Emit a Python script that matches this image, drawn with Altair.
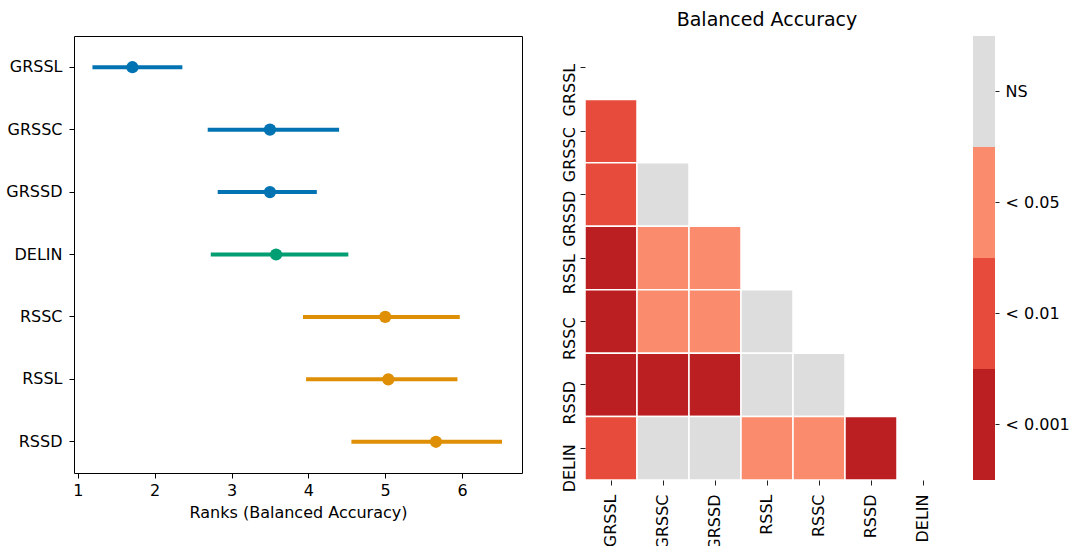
import altair as alt
import pandas as pd

# --- mean ranks with their intervals (left panel) ---
rank_methods = ["GRSSL", "GRSSC", "GRSSD", "DELIN", "RSSC", "RSSL", "RSSD"]
rank_mean = [1.71, 3.50, 3.50, 3.58, 5.00, 5.04, 5.66]
rank_low = [1.19, 2.69, 2.82, 2.73, 3.93, 3.97, 4.56]
rank_high = [2.36, 4.40, 4.11, 4.52, 5.97, 5.94, 6.52]
rank_family = ["GRSS", "GRSS", "GRSS", "DELIN", "RSS", "RSS", "RSS"]
family_order = ["GRSS", "DELIN", "RSS"]
family_colors = ["#0173b2", "#029e73", "#de8f05"]
rank_ticks = [1, 2, 3, 4, 5, 6]

# --- pairwise significance, lower triangle (right panel) ---
heat_order = ["GRSSL", "GRSSC", "GRSSD", "RSSL", "RSSC", "RSSD", "DELIN"]
sig_rows = [
    [],
    ["< 0.01"],
    ["< 0.01", "NS"],
    ["< 0.001", "< 0.05", "< 0.05"],
    ["< 0.001", "< 0.05", "< 0.05", "NS"],
    ["< 0.001", "< 0.001", "< 0.001", "NS", "NS"],
    ["< 0.01", "NS", "NS", "< 0.05", "< 0.05", "< 0.001"],
]
sig_levels = ["NS", "< 0.05", "< 0.01", "< 0.001"]
sig_colors = ["#dddddd", "#fa8b6c", "#e64b3b", "#bb1f22"]

FONT = "DejaVu Sans"
FS = 16

ranks = pd.DataFrame({
    "method": rank_methods,
    "mean": rank_mean,
    "low": rank_low,
    "high": rank_high,
    "family": rank_family,
})

cells = pd.DataFrame([
    {"row": heat_order[i], "col": heat_order[j], "sig": s}
    for i, row in enumerate(sig_rows)
    for j, s in enumerate(row)
])
levels = pd.DataFrame({"sig": sig_levels})

# ---------------- left: point + interval plot ----------------
y_rank = alt.Y(
    "method:N",
    scale=alt.Scale(type="band", domain=rank_methods, paddingInner=0, paddingOuter=0),
    axis=alt.Axis(title=None, domain=False, tickSize=5, tickColor="black",
                  labelFontSize=FS, labelColor="black", labelPadding=7),
)
x_scale = alt.Scale(domain=[0.95, 6.78], nice=False, zero=False)
fam_color = alt.Color("family:N", scale=alt.Scale(domain=family_order, range=family_colors), legend=None)

intervals = alt.Chart(ranks).mark_rule(strokeWidth=4).encode(
    x=alt.X("low:Q", scale=x_scale,
            axis=alt.Axis(values=rank_ticks, format="d", title="Ranks (Balanced Accuracy)",
                          domain=False, grid=False, tickSize=5, tickColor="black",
                          labelFontSize=FS, labelColor="black", labelPadding=4,
                          titleFontSize=16, titleFontWeight="normal", titleColor="black",
                          titlePadding=6)),
    x2="high:Q",
    y=y_rank,
    color=fam_color,
)
means = alt.Chart(ranks).mark_circle(size=150, opacity=1).encode(
    x=alt.X("mean:Q", scale=x_scale),
    y=y_rank,
    color=fam_color,
)
left = alt.layer(intervals, means).properties(
    width=448, height=437,
    view=alt.ViewBackground(stroke="black", strokeWidth=1),
)

# ---------------- right: significance heatmap + colour bar ----------------
sig_color = alt.Color("sig:N", scale=alt.Scale(domain=sig_levels, range=sig_colors), legend=None)

heat = alt.Chart(cells).mark_rect(stroke="white", strokeWidth=1.5).encode(
    x=alt.X("col:N", scale=alt.Scale(domain=heat_order, paddingInner=0, paddingOuter=0),
            axis=alt.Axis(title=None, domain=False, tickSize=5, tickColor="#222",
                          labelAngle=270, labelAlign="right", labelBaseline="middle",
                          labelFontSize=FS, labelColor="black", labelPadding=9)),
    y=alt.Y("row:N", scale=alt.Scale(domain=heat_order, paddingInner=0, paddingOuter=0),
            axis=alt.Axis(title=None, domain=False, tickSize=5, tickColor="#222",
                          labelAngle=270, labelAlign="right", labelBaseline="alphabetic",
                          labelOffset=-4, labelFontSize=FS, labelColor="black",
                          labelPadding=6)),
    color=sig_color,
)

cbar = alt.Chart(levels).mark_rect().encode(
    x=alt.value(388),
    x2=alt.value(410),
    y=alt.Y("sig:N", scale=alt.Scale(domain=sig_levels, paddingInner=0, paddingOuter=0),
            axis=alt.Axis(orient="right", offset=46, title=None, domain=False,
                          tickSize=4, tickColor="#222", labelAngle=0,
                          labelFontSize=FS, labelColor="black", labelPadding=6)),
    color=sig_color,
)

right = alt.layer(heat, cbar).resolve_scale(y="independent").properties(
    width=364, height=444,
    title=alt.Title("Balanced Accuracy", fontSize=19, fontWeight="normal",
                    anchor="middle", color="black", font=FONT, offset=6),
)

chart = alt.hconcat(left, right, spacing=63, bounds="flush").resolve_scale(
    color="independent"
).properties(
    padding={"left": 5, "top": 11, "right": 0, "bottom": 0},
    background="white",
).configure(font=FONT).configure_view(stroke=None)

chart.save("out.html", embed_options={"renderer": "svg", "actions": False})
